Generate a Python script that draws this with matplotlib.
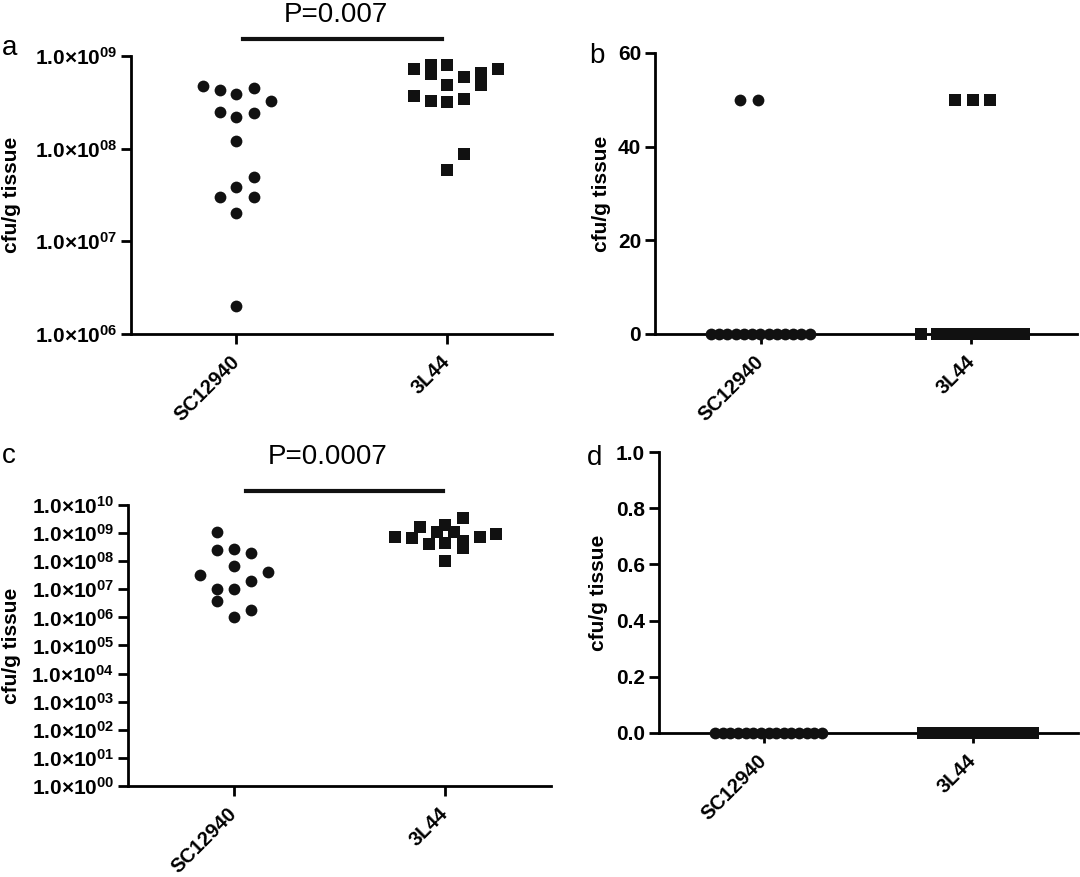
import numpy as np
import matplotlib
matplotlib.use("Agg")
import matplotlib.pyplot as plt

plt.rcParams["font.family"] = ["Liberation Sans", "DejaVu Sans"]
plt.rcParams["mathtext.fontset"] = "custom"
plt.rcParams["mathtext.rm"] = "Liberation Sans:bold"
plt.rcParams["mathtext.bf"] = "Liberation Sans:bold"
plt.rcParams["mathtext.it"] = "Liberation Sans:bold"
plt.rcParams["mathtext.default"] = "rm"

groups = ["SC12940", "3L44"]

# panel a: cfu/g tissue (log)
a_sc = [4.7e8, 4.3e8, 3.9e8, 4.5e8, 3.3e8, 2.5e8, 2.2e8, 2.4e8, 1.2e8,
        5.0e7, 3.9e7, 3.0e7, 3.0e7, 2.0e7, 2.0e6]
a_sc_dx = [-0.159, -0.079, 0, 0.083, 0.165, -0.079, 0, 0.083, 0,
           0.083, 0, -0.079, 0.083, 0, 0]
a_3l = [7.2e8, 8.0e8, 6.4e8, 7.9e8, 6.0e8, 6.6e8, 7.25e8, 3.66e8, 3.26e8,
        4.84e8, 3.2e8, 3.47e8, 4.84e8, 8.8e7, 5.9e7]
a_3l_dx = [-0.156, -0.076, -0.076, 0, 0.083, 0.162, 0.244, -0.156, -0.076,
           0, 0, 0.083, 0.162, 0.083, 0]

# panel b: cfu/g tissue (linear)
b_sc = [50, 50, 0, 0, 0, 0, 0, 0, 0, 0, 0, 0, 0, 0, 0]
b_sc_dx = [-0.095, -0.014, -0.235, -0.196, -0.157, -0.118, -0.079, -0.040,
           -0.001, 0.038, 0.077, 0.116, 0.155, 0.194, 0.233]
b_3l = [50, 50, 50, 0, 0, 0, 0, 0, 0, 0, 0, 0, 0, 0, 0]
b_3l_dx = [-0.076, 0.005, 0.086, -0.239, -0.162, -0.121, -0.080, -0.038,
           0.003, 0.044, 0.086, 0.127, 0.168, 0.210, 0.251]

# panel c: cfu/g tissue (log)
c_sc = [1.07e9, 2.5e8, 2.8e8, 1.9e8, 6.8e7, 3.3e7, 4.0e7, 1.9e7, 1.05e7,
        1.05e7, 3.9e6, 1.9e6, 1.0e6]
c_sc_dx = [-0.079, -0.079, 0, 0.082, 0, -0.16, 0.16, 0.082, -0.079,
           0, -0.079, 0.082, 0]
c_3l = [7.5e8, 6.6e8, 1.6e9, 4.1e8, 1.05e9, 1.95e9, 4.4e8, 1.12e9, 3.4e9,
        5.4e8, 2.9e8, 7.2e8, 9.1e8, 9.8e7]
c_3l_dx = [-0.239, -0.157, -0.118, -0.079, -0.039, 0, 0, 0.039, 0.083,
           0.083, 0.083, 0.162, 0.24, 0]

# panel d: all zero
d_sc = [0] * 15
d_sc_dx = [-0.231, -0.195, -0.159, -0.122, -0.086, -0.050, -0.013, 0.023,
           0.059, 0.096, 0.132, 0.168, 0.204, 0.241, 0.277]
d_3l = [0] * 15
d_3l_dx = [-0.239, -0.202, -0.164, -0.127, -0.090, -0.052, -0.015, 0.022,
           0.060, 0.097, 0.134, 0.172, 0.209, 0.246, 0.283]


def log_label(e):
    return "1.0\u00d7$10^{%02d}$" % e


def style_axes(ax, label_x):
    for side in ["top", "right"]:
        ax.spines[side].set_visible(False)
    for side in ["left", "bottom"]:
        ax.spines[side].set_linewidth(2.0)
    ax.tick_params(axis="both", width=2.0, length=7, labelsize=15, pad=3)
    ax.set_xlim(-0.5, 1.5)
    ax.set_xticks([0, 1])
    ax.set_xticklabels(groups, rotation=45, ha="right", va="center",
                       rotation_mode="anchor", fontweight="bold", fontsize=14.5)
    ax.tick_params(axis="x", pad=11)
    for t in ax.get_yticklabels():
        t.set_fontweight("bold")
    ax.set_ylabel("cfu/g tissue", fontsize=15, fontweight="bold")
    ax.yaxis.set_label_coords(label_x, 0.5)


def draw_points(ax, sc, sc_dx, l3, l3_dx):
    ax.scatter(np.array(sc_dx), sc, marker="o", s=72, color="#111111",
               linewidths=0, zorder=5, clip_on=False)
    ax.scatter(1 + np.array(l3_dx), l3, marker="s", s=72, color="#111111",
               linewidths=0, zorder=5, clip_on=False)


fig = plt.figure(figsize=(10.8, 8.77), dpi=100)

ax_a = fig.add_axes([0.1213, 0.6192, 0.3898, 0.3170])
ax_b = fig.add_axes([0.6065, 0.6192, 0.3907, 0.3204])
ax_c = fig.add_axes([0.1185, 0.1038, 0.3917, 0.3204])
ax_d = fig.add_axes([0.6102, 0.1642, 0.3880, 0.3204])

# a
draw_points(ax_a, a_sc, a_sc_dx, a_3l, a_3l_dx)
ax_a.set_yscale("log")
ax_a.set_ylim(1e6, 1e9)
ax_a.set_yticks([10.0 ** e for e in range(6, 10)],
                [log_label(e) for e in range(6, 10)])
ax_a.minorticks_off()
style_axes(ax_a, -0.262)
ax_a.plot([0.033, 0.978], [1.060, 1.060], color="#111111", lw=3,
          transform=ax_a.get_xaxis_transform(), clip_on=False)
ax_a.text(0.472, 1.148, "P=0.007", fontsize=20, ha="center", va="center",
          transform=ax_a.get_xaxis_transform())

# b
draw_points(ax_b, b_sc, b_sc_dx, b_3l, b_3l_dx)
ax_b.set_ylim(0, 60)
ax_b.set_yticks([0, 20, 40, 60])
style_axes(ax_b, -0.105)

# c
draw_points(ax_c, c_sc, c_sc_dx, c_3l, c_3l_dx)
ax_c.set_yscale("log")
ax_c.set_ylim(1e0, 1e10)
ax_c.set_yticks([10.0 ** e for e in range(0, 11)],
                [log_label(e) for e in range(0, 11)])
ax_c.minorticks_off()
style_axes(ax_c, -0.253)
ax_c.plot([0.057, 0.99], [1.051, 1.051], color="#111111", lw=3,
          transform=ax_c.get_xaxis_transform(), clip_on=False)
ax_c.text(0.445, 1.171, "P=0.0007", fontsize=20, ha="center", va="center",
          transform=ax_c.get_xaxis_transform())

# d
draw_points(ax_d, d_sc, d_sc_dx, d_3l, d_3l_dx)
ax_d.set_ylim(0, 1.0)
ax_d.set_yticks([0.0, 0.2, 0.4, 0.6, 0.8, 1.0],
                ["0.0", "0.2", "0.4", "0.6", "0.8", "1.0"])
style_axes(ax_d, -0.122)

# panel letters
for letter, x, y in [("a", 2, 55), ("b", 589, 63), ("c", 2, 463), ("d", 587, 465)]:
    fig.text(x / 1080, 1 - y / 877, letter, fontsize=20, ha="left", va="baseline")

fig.savefig("out.png", dpi=100)
